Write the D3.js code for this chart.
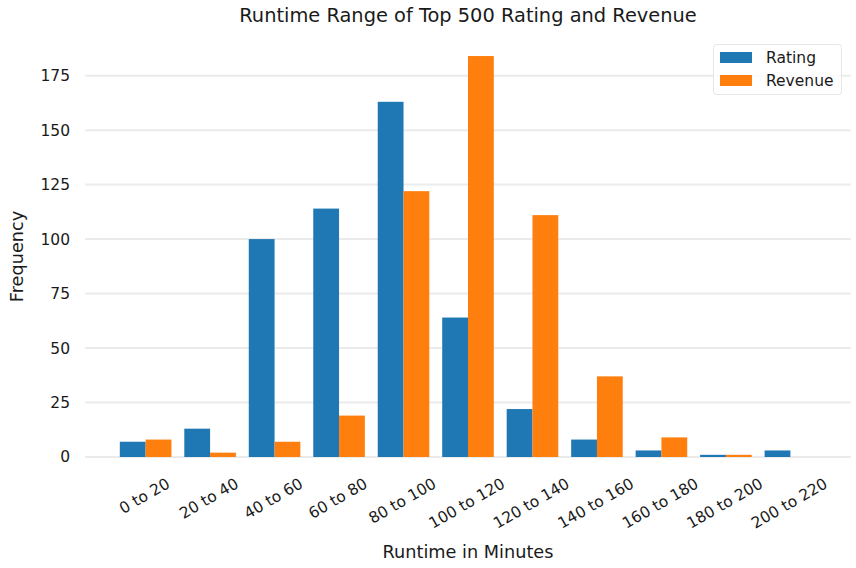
<!DOCTYPE html>
<meta charset="utf-8">
<title>Runtime Range of Top 500 Rating and Revenue</title>
<script src="https://d3js.org/d3.v7.min.js"></script>
<style>
  body { margin: 0; background: #fff; }
  text { font-family: "DejaVu Sans", sans-serif; fill: #1a1a1a; }
</style>
<body>
<div id="my_dataviz"></div>
<script>

// data
var categories = ["0 to 20", "20 to 40", "40 to 60", "60 to 80", "80 to 100", "100 to 120",
                  "120 to 140", "140 to 160", "160 to 180", "180 to 200", "200 to 220"];
var rating  = [7, 13, 100, 114, 163, 64, 22, 8, 3, 1, 3];
var revenue = [8, 2, 7, 19, 122, 184, 111, 37, 9, 1, 0];
var seriesNames = ["Rating", "Revenue"];
var colors = ["#1f77b4", "#ff7f0e"];
var yTicks = [0, 25, 50, 75, 100, 125, 150, 175];

var W = 856, H = 568;
var plotLeft = 85, plotRight = 851, plotTop = 36, plotBottom = 457;
var tickFont = 15.5;

var svg = d3.select("#my_dataviz")
  .append("svg")
    .attr("width", W)
    .attr("height", H);

// x: one band per runtime range, each band split in two bars
var x = d3.scaleBand()
  .domain(categories)
  .range([plotLeft, plotRight])
  .paddingInner(0.2)
  .paddingOuter(0.54);

var xs = d3.scaleBand()
  .domain(seriesNames)
  .range([0, x.bandwidth()]);

var y = d3.scaleLinear()
  .domain([0, d3.max(revenue) * 1.05])
  .range([plotBottom, plotTop]);

// grid lines
svg.append("g")
  .selectAll("line")
  .data(yTicks)
  .enter()
  .append("line")
    .attr("x1", plotLeft)
    .attr("x2", plotRight)
    .attr("y1", function(d) { return y(d); })
    .attr("y2", function(d) { return y(d); })
    .attr("stroke", "#ebebeb")
    .attr("stroke-width", 2);

// y axis labels (no domain line, no ticks)
var yAxis = d3.axisLeft(y).tickValues(yTicks).tickSize(0).tickPadding(15);
svg.append("g")
  .attr("transform", "translate(" + plotLeft + ",0)")
  .call(yAxis)
  .call(function(g) { g.select(".domain").remove(); })
  .selectAll("text")
    .attr("font-family", "DejaVu Sans")
    .attr("font-size", tickFont)
    .attr("fill", "#1a1a1a");

// bars
var rows = categories.map(function(c, i) {
  return { cat: c, values: [rating[i], revenue[i]] };
});

var groups = svg.append("g")
  .selectAll("g")
  .data(rows)
  .enter()
  .append("g")
    .attr("transform", function(d) { return "translate(" + x(d.cat) + ",0)"; });

groups.selectAll("rect")
  .data(function(d) {
    return d.values.map(function(v, j) { return { key: seriesNames[j], value: v, j: j }; });
  })
  .enter()
  .append("rect")
    .attr("x", function(d) { return xs(d.key); })
    .attr("width", xs.bandwidth())
    .attr("y", function(d) { return y(d.value); })
    .attr("height", function(d) { return y(0) - y(d.value); })
    .attr("fill", function(d) { return colors[d.j]; });

// x tick labels, rotated 30 degrees, bbox centred under the group
var xl = svg.append("g");
categories.forEach(function(c) {
  var cx = x(c) + x.bandwidth() / 2;
  var t = xl.append("text")
    .attr("font-size", tickFont)
    .attr("text-anchor", "middle")
    .attr("dominant-baseline", "central")
    .text(c);
  var w = t.node().getComputedTextLength();
  var h = tickFont * 1.1;
  var bh = w * Math.sin(Math.PI / 6) + h * Math.cos(Math.PI / 6);
  t.attr("transform", "translate(" + (cx - 1) + "," + (plotBottom + 18 + bh / 2) + ") rotate(-30)");
});

// axis titles
svg.append("text")
  .attr("x", (plotLeft + plotRight) / 2)
  .attr("y", 558)
  .attr("text-anchor", "middle")
  .attr("font-size", 17.7)
  .text("Runtime in Minutes");

svg.append("text")
  .attr("transform", "translate(23," + ((plotTop + plotBottom) / 2 + 10) + ") rotate(-90)")
  .attr("text-anchor", "middle")
  .attr("font-size", 17.7)
  .text("Frequency");

// chart title
svg.append("text")
  .attr("x", (plotLeft + plotRight) / 2)
  .attr("y", 22)
  .attr("text-anchor", "middle")
  .attr("font-size", 19.4)
  .text("Runtime Range of Top 500 Rating and Revenue");

// legend
var legend = svg.append("g");
legend.append("rect")
  .attr("x", 713.5)
  .attr("y", 44.5)
  .attr("width", 128)
  .attr("height", 50)
  .attr("rx", 3)
  .attr("fill", "#fff")
  .attr("fill-opacity", 0.8)
  .attr("stroke", "#e6e6e6");

seriesNames.forEach(function(s, i) {
  legend.append("rect")
    .attr("x", 720)
    .attr("y", 52 + i * 23)
    .attr("width", 32)
    .attr("height", 11)
    .attr("fill", colors[i]);
  legend.append("text")
    .attr("x", 766)
    .attr("y", 57.5 + i * 23)
    .attr("dominant-baseline", "central")
    .attr("font-size", tickFont)
    .text(s);
});

</script>
</body>
